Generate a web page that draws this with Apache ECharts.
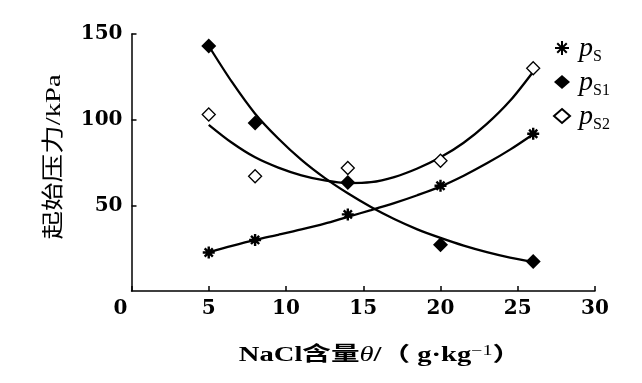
<!DOCTYPE html>
<html>
<head>
<meta charset="utf-8">
<script src="https://cdn.jsdelivr.net/npm/echarts@6/dist/echarts.min.js"></script>
<style>
html,body{margin:0;padding:0;background:#fff;}
#chart{width:642px;height:383px;}
</style>
</head>
<body>
<div id="chart"></div>
<script>
// ---- data ----
const xValues = [5, 8, 14, 20, 26];              // NaCl content θ (g·kg^-1)
const psValues  = [22.5, 29.8, 44.7, 61.4, 91.8];
const ps1Values = [143, 98, 63.3, 27, 17.2];
const ps2Values = [103, 67, 71.8, 76, 130];
// trend lines
const fitX   = [5, 6.5, 8, 9.5, 11, 12.5, 14, 15.5, 17, 18.5, 20, 21.5, 23, 24.5, 26];
const psFit  = [22.5, 26.3, 29.8, 32.8, 35.9, 39.3, 43.3, 47.2, 51.3, 55.9, 61, 67.3, 74.5, 82.5, 91.5];
const ps1Fit = [143, 122, 103.5, 89, 76.5, 66, 57, 49, 42, 36, 31, 26.5, 22.7, 19.5, 17];
const ps2Fit = [97, 86.5, 78, 72, 67.5, 64.5, 63, 63.5, 66.5, 71.5, 78, 86.5, 97.5, 111, 128];
const xTickValues = [0, 5, 10, 15, 20, 25, 30];
const yTickValues = [50, 100, 150];
const legendNames = ['ps', 'ps1', 'ps2'];
const legendSubs  = ['S', 'S1', 'S2'];

const pairs = (xs, ys) => xs.map((x, i) => [x, ys[i]]);
const asterisk = 'path://M5,0L5,10M0,5L10,5M1.6,1.6L8.4,8.4M1.6,8.4L8.4,1.6';
const tickFont = 'DejaVu Serif';

const chart = echarts.init(document.getElementById('chart'));
chart.setOption({
  backgroundColor: '#fff',
  animation: false,
  grid: { left: 131.5, right: 47, top: 34, bottom: 92 },
  xAxis: {
    type: 'value', min: xTickValues[0], max: xTickValues[xTickValues.length - 1], interval: 5,
    axisLine: { lineStyle: { color: '#000', width: 1.5 } },
    axisTick: { inside: true, length: 5, lineStyle: { color: '#000', width: 1.5 } },
    splitLine: { show: false },
    axisLabel: {
      margin: 8, color: '#000', fontFamily: tickFont, fontWeight: 'bold', fontSize: 20,
      formatter: v => v === 0 ? '{z|0}' : String(v),
      rich: { z: { fontFamily: tickFont, fontWeight: 'bold', fontSize: 20, padding: [0, 22, 0, 0] } }
    }
  },
  yAxis: {
    type: 'value', min: 0, max: yTickValues[yTickValues.length - 1], interval: 50,
    axisLine: { show: true, lineStyle: { color: '#000', width: 1.5 } },
    axisTick: { show: true, inside: true, length: 5, lineStyle: { color: '#000', width: 1.5 } },
    splitLine: { show: false },
    axisLabel: { showMinLabel: false, margin: 9, color: '#000', fontFamily: tickFont, fontWeight: 'bold', fontSize: 20 }
  },
  legend: {
    orient: 'vertical', left: 548, top: 30, itemWidth: 16, itemHeight: 14, itemGap: 4,
    data: legendNames,
    formatter: name => '{p|p}{s|' + legendSubs[legendNames.indexOf(name)] + '}',
    textStyle: {
      color: '#000',
      rich: {
        p: { fontFamily: 'Liberation Serif', fontStyle: 'italic', fontSize: 28, lineHeight: 26, verticalAlign: 'top', padding: [0, 0, 0, 4] },
        s: { fontFamily: 'Liberation Serif', fontSize: 16, lineHeight: 16, padding: [14, 0, 0, 0], verticalAlign: 'top' }
      }
    }
  },
  graphic: [
    {
      type: 'text', x: 380, y: 356, scaleX: 1.43,
      style: {
        text: '{a|NaCl含量}{i|θ}{a|/（ g·kg}{u|−1}{a|）}',
        align: 'center', verticalAlign: 'middle', fill: '#000',
        rich: {
          a: { fontFamily: 'Liberation Serif, Noto Sans CJK SC', fontWeight: 'bold', fontSize: 20, lineHeight: 24 },
          i: { fontFamily: 'Liberation Serif', fontStyle: 'italic', fontSize: 20, lineHeight: 24 },
          u: { fontFamily: 'Liberation Serif', fontSize: 14, lineHeight: 14, verticalAlign: 'top' }
        }
      }
    },
    {
      type: 'text', x: 54, y: 157, rotation: Math.PI / 2, scaleX: 1.3,
      style: {
        text: '起始压力/kPa',
        align: 'center', verticalAlign: 'middle', fill: '#000',
        fontFamily: 'Liberation Serif, Noto Sans CJK SC', fontSize: 22
      }
    }
  ],
  series: [
    { name: 'psFit', type: 'line', data: pairs(fitX, psFit), smooth: 0.3, showSymbol: false, silent: true,
      lineStyle: { color: '#000', width: 2.3 }, z: 2 },
    { name: 'ps1Fit', type: 'line', data: pairs(fitX, ps1Fit), smooth: 0.3, showSymbol: false, silent: true,
      lineStyle: { color: '#000', width: 2.3 }, z: 2 },
    { name: 'ps2Fit', type: 'line', data: pairs(fitX, ps2Fit), smooth: 0.3, showSymbol: false, silent: true,
      lineStyle: { color: '#000', width: 2.3 }, z: 2 },
    { name: 'ps', type: 'scatter', data: pairs(xValues, psValues), symbol: asterisk, symbolSize: 12,
      itemStyle: { color: '#000', borderColor: '#000', borderWidth: 2.4, opacity: 1 }, z: 5 },
    { name: 'ps1', type: 'scatter', data: pairs(xValues, ps1Values), symbol: 'diamond', symbolSize: 15,
      itemStyle: { color: '#000', borderColor: '#000', borderWidth: 0, opacity: 1 }, z: 5 },
    { name: 'ps2', type: 'scatter', data: pairs(xValues, ps2Values), symbol: 'diamond', symbolSize: 13,
      itemStyle: { color: '#fff', borderColor: '#000', borderWidth: 1.3, opacity: 1 }, z: 5 }
  ]
});
</script>
</body>
</html>
